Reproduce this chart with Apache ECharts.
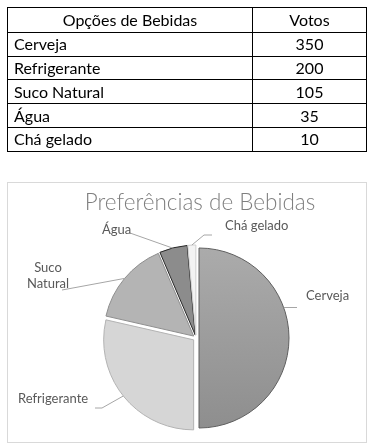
<!DOCTYPE html>
<html>
<head>
<meta charset="utf-8">
<script src="https://cdn.jsdelivr.net/npm/echarts@6/dist/echarts.min.js"></script>
<style>
  html, body { margin: 0; padding: 0; background: #fff; width: 382px; height: 447px; overflow: hidden; }
  #chart { position: absolute; left: 0; top: 0; width: 382px; height: 447px; }
  #frame { position: absolute; left: 7px; top: 182px; width: 358px; height: 259px; border: 1px solid #d9d9d9; box-sizing: content-box; }
  #tbl { position: absolute; left: 7px; top: 7px; border-collapse: collapse; font-family: Lato, "Open Sans", sans-serif; font-size: 16px; color: #000; z-index: 2; }
  #tbl td, #tbl th { border: 1px solid #000; padding: 0 6px; height: 22.8px; line-height: 20px; font-weight: normal; }
  #tbl th { height: 23.8px; text-align: center; }
  #tbl td.v { text-align: center; }
  #tbl .c1 { width: 232px; }
  #tbl .c2 { width: 101px; }
</style>
</head>
<body>
<div id="frame"></div>
<div id="chart"></div>
<table id="tbl"></table>
<script>
const headers = ['Opções de Bebidas', 'Votos'];
const categories = ['Cerveja', 'Refrigerante', 'Suco Natural', 'Água', 'Chá gelado'];
const votes = [350, 200, 105, 35, 10];
const chartTitle = 'Preferências de Bebidas';

// table
const tbl = document.getElementById('tbl');
let html = '<tr><th class="c1">' + headers[0] + '</th><th class="c2">' + headers[1] + '</th></tr>';
categories.forEach((c, i) => {
  html += '<tr><td class="c1">' + c + '</td><td class="v c2">' + votes[i] + '</td></tr>';
});
tbl.innerHTML = html;

// pie geometry / styles
const CX = 196, CY = 338, R = 90, OFF = 3;
const fills = [
  new echarts.graphic.LinearGradient(0, 0, 0, 1, [{offset: 0, color: '#ababab'}, {offset: 1, color: '#8e8e8e'}]),
  '#d6d6d6', '#b4b4b4', '#8c8c8c', '#f3f3f3'
];
const borders = ['#5f5f5f', '#b3b3b3', '#8e8e8e', '#262626', '#cfcfcf'];

// label layout (positions of annotation text and leader-line ends)
const labelCfg = [
  {x: 306, y: 296, align: 'left', t: 0.39, pts: p => [p, [297, p[1]]]},
  {x: 18, y: 399, align: 'left', t: 0.5, pts: p => [p, [102, 408], [95, 408]]},
  {x: 48, y: 276, align: 'center', t: 0.5, pts: p => [p, [62, 290]]},
  {x: 102, y: 230, align: 'left', t: 0.47, pts: p => [p, [130, 233]]},
  {x: 225, y: 226, align: 'left', t: 0.5, pts: p => [p, [204, 235], [212, 235]]}
];

const total = votes.reduce((a, b) => a + b, 0);
function anchor(i, t) {
  let before = 0;
  for (let k = 0; k < i; k++) before += votes[k];
  const start = before / total * Math.PI * 2;
  const sweep = votes[i] / total * Math.PI * 2;
  const mid = start + sweep / 2;
  const th = start + t * sweep;
  const ox = CX + OFF * Math.sin(mid), oy = CY - OFF * Math.cos(mid);
  return [ox + R * Math.sin(th), oy - R * Math.cos(th)];
}

const graphics = [{
  type: 'text', silent: true, z: 10,
  x: 200, y: 203,
  style: {
    text: chartTitle,
    font: '300 22.5px Lato, sans-serif',
    fill: '#7f7f7f',
    align: 'center',
    verticalAlign: 'middle'
  }
}];
categories.forEach((c, i) => {
  const cfg = labelCfg[i];
  const a = anchor(i, cfg.t);
  graphics.push({
    type: 'polyline', silent: true, z: 10,
    shape: { points: cfg.pts(a) },
    style: { stroke: '#a6a6a6', lineWidth: 1, fill: null }
  });
  graphics.push({
    type: 'text', silent: true, z: 10,
    x: cfg.x, y: cfg.y,
    style: {
      text: c === 'Suco Natural' ? 'Suco\nNatural' : c,
      font: '13px Lato, sans-serif',
      fill: '#595959',
      align: cfg.align,
      verticalAlign: 'middle',
      lineHeight: 16
    }
  });
});

const chart = echarts.init(document.getElementById('chart'), null, {renderer: 'canvas'});
chart.setOption({
  animation: false,
  graphic: graphics,
  series: [{
    type: 'pie',
    center: [CX, CY],
    radius: R,
    startAngle: 90,
    clockwise: true,
    selectedMode: 'multiple',
    selectedOffset: OFF,
    silent: true,
    label: { show: false },
    labelLine: { show: false },
    data: categories.map((c, i) => ({
      name: c,
      value: votes[i],
      selected: true,
      itemStyle: { color: fills[i], borderColor: borders[i], borderWidth: 1 }
    }))
  }]
});
</script>
</body>
</html>
